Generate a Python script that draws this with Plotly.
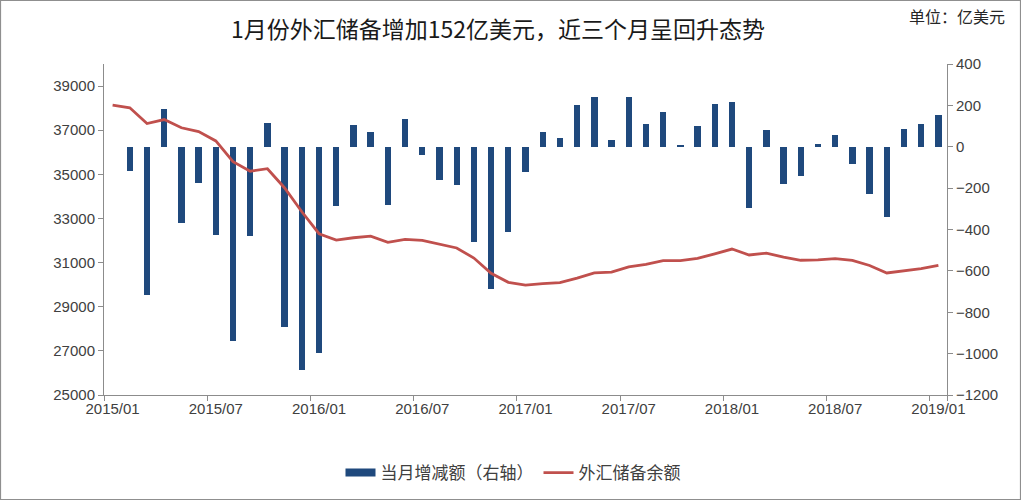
import plotly.graph_objects as go

# ---- data (亿美元) ----
months = [f"{y}/{m:02d}" for y in range(2015, 2020) for m in range(1, 13)][:49]

reserves = [38134, 38015, 37300, 37481, 37111, 36938, 36513, 35574, 35141, 35255, 34383, 33304,
            32309, 32023, 32126, 32197, 31917, 32052, 32011, 31851, 31664, 31206, 30516, 30105,
            29982, 30051, 30091, 30295, 30536, 30568, 30807, 30915, 31085, 31092, 31193, 31399,
            31615, 31345, 31428, 31249, 31106, 31121, 31179, 31097, 30870, 30531, 30617, 30727,
            30879]

change = [None, -117, -715, 181, -370, -173, -425, -939, -433, 114, -872, -1079,
          -995, -286, 103, 71, -280, 135, -41, -160, -187, -458, -690, -411,
          -123, 69, 40, 204, 241, 32, 239, 108, 170, 7, 101, 206,
          215, -295, 83, -180, -143, 15, 58, -82, -227, -339, 86, 110,
          152]

tick_labels = [months[i] for i in range(0, 49, 6)]
left_ticks = list(range(25000, 40001, 2000))

BLUE = "#1F497D"
RED = "#C0504D"
AX = "#8C8C8C"
TXT = "#404040"

W, H = 1021, 500
L, R, T, B = 104, 74, 64, 105
PW, PH = W - L - R, H - T - B


def px2x(px):
    return (px - L) / PW


def py2y(py):
    return (H - B - py) / PH


fig = go.Figure()

# bars on the right-hand axis
fig.add_trace(go.Bar(
    x=months, y=change, yaxis="y", width=0.37,
    marker=dict(color=BLUE, line=dict(width=0)),
    showlegend=False, name="当月增减额（右轴）",
))
# legend proxy for the bar series (wide swatch)
fig.add_trace(go.Scatter(
    x=[months[0]], y=[None], yaxis="y", mode="lines",
    line=dict(color=BLUE, width=8), name="当月增减额（右轴）",
))
# reserves line on the left-hand axis
fig.add_trace(go.Scatter(
    x=months, y=reserves, yaxis="y2", mode="lines",
    line=dict(color=RED, width=2.8), name="外汇储备余额",
))

tickfont = dict(family="Liberation Sans, Arial, sans-serif", size=15, color=TXT)

fig.update_layout(
    width=W, height=H,
    margin=dict(l=L, r=R, t=T, b=B, autoexpand=False),
    paper_bgcolor="white", plot_bgcolor="white",
    xaxis=dict(
        type="category", range=[-0.5, 48.5],
        tickmode="array", tickvals=tick_labels, ticktext=tick_labels,
        tickangle=0, automargin=False,
        tickson="boundaries", ticks="outside", ticklen=5, tickcolor=AX,
        showline=True, linecolor=AX, linewidth=1,
        showgrid=False, zeroline=False, tickfont=tickfont,
    ),
    yaxis=dict(
        side="right", range=[-1200, 400], dtick=200, tick0=0,
        automargin=False,
        ticks="outside", ticklen=5, tickcolor=AX,
        showline=True, linecolor=AX, linewidth=1,
        showgrid=False, zeroline=False, tickfont=tickfont,
    ),
    yaxis2=dict(
        overlaying="y", side="left", range=[25000, 40000],
        tickmode="array", tickvals=left_ticks, ticktext=[str(v) for v in left_ticks],
        automargin=False,
        ticks="outside", ticklen=5, tickcolor=AX,
        showline=True, linecolor=AX, linewidth=1,
        showgrid=False, zeroline=False, tickfont=tickfont,
    ),
    legend=dict(
        orientation="h", x=px2x(513), xanchor="center",
        y=py2y(473), yanchor="middle",
        font=dict(family="Noto Sans CJK SC", size=17, color="#404040"),
        bgcolor="rgba(0,0,0,0)", itemwidth=30,
    ),
    bargap=0,
    annotations=[
        dict(text="1月份外汇储备增加152亿美元，近三个月呈回升态势",
             xref="paper", yref="paper", x=px2x(498), y=py2y(28),
             xanchor="center", yanchor="middle", showarrow=False,
             font=dict(family="Noto Sans CJK SC", size=23, color="#1a1a1a")),
        dict(text="单位：亿美元",
             xref="paper", yref="paper", x=px2x(1007), y=py2y(16),
             xanchor="right", yanchor="middle", showarrow=False,
             font=dict(family="Noto Sans CJK SC", size=16, color="#262626")),
    ],
    shapes=[
        dict(type="rect", xref="paper", yref="paper",
             x0=px2x(0.5), x1=px2x(W - 0.5), y0=py2y(H - 0.5), y1=py2y(0.5),
             line=dict(color="#8F8F8F", width=1.2), layer="below"),
    ],
)

fig.write_html(
    "out.html",
    config={"displayModeBar": False},
    post_script="document.body.style.margin='0px';document.body.style.overflow='hidden';",
)
